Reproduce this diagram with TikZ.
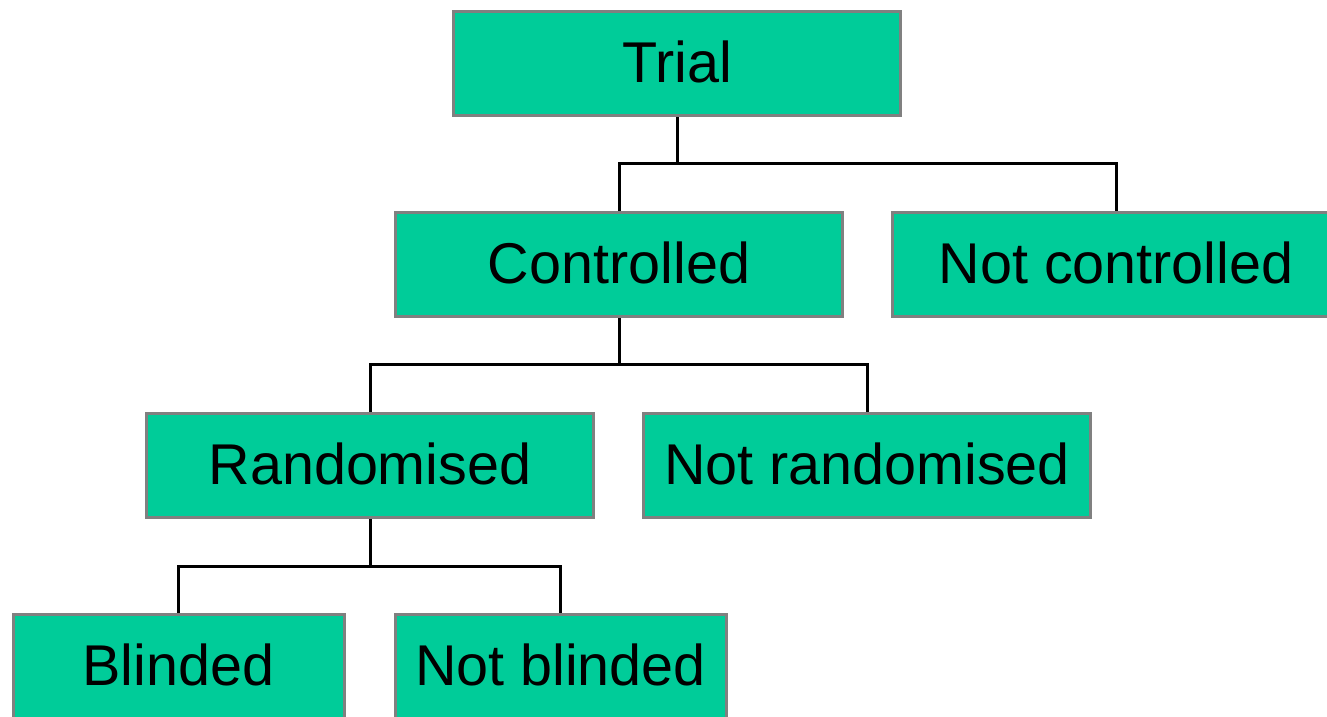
\documentclass[tikz,border=0pt]{standalone}
\usepackage{fontspec}
\setmainfont{Liberation Sans}
\usetikzlibrary{positioning,calc}
\definecolor{boxfill}{RGB}{0,204,153}
\definecolor{boxline}{RGB}{128,128,128}

\begin{document}
\begin{tikzpicture}[
  x=1pt, y=-1pt,
  box/.style={
    draw=boxline,
    line width=3pt,
    fill=boxfill,
    inner sep=0pt,
    minimum width=#1,
    minimum height=104pt,
    text height=41pt,
    text depth=4pt,
    font=\fontsize{57.5}{69}\selectfont
  },
  box/.default=447pt,
  link/.style={draw=black, line width=3pt}
]
\useasboundingbox (0,0) rectangle (1327,717);
\clip (0,0) rectangle (1327,717);

% Top level
\node[box] (trial) at (677, 63.5) {Trial};

% Second level
\node[box] (ctrl) at (619, 264.5) {Controlled};
\node[box] (nctrl) at (1116, 264.5) {Not controlled};

% Third level
\node[box] (rand) at (370, 465.5) {Randomised};
\node[box] (nrand) at (867, 465.5) {Not randomised};

% Bottom level
\node[box=331pt] (blind) at (178.5, 666.5) {Blinded};
\node[box=331pt] (nblind) at (560.5, 666.5) {Not blinded};

% Connectors
\draw[link] (trial.south) -- ++(0,46) -| (ctrl.north);
\draw[link] (trial.south) -- ++(0,46) -| (nctrl.north);
\draw[link] (ctrl.south) -- ++(0,46) -| (rand.north);
\draw[link] (ctrl.south) -- ++(0,46) -| (nrand.north);
\draw[link] (rand.south) -- ++(0,47) -| (blind.north);
\draw[link] (rand.south) -- ++(0,47) -| (nblind.north);

\end{tikzpicture}
\end{document}
